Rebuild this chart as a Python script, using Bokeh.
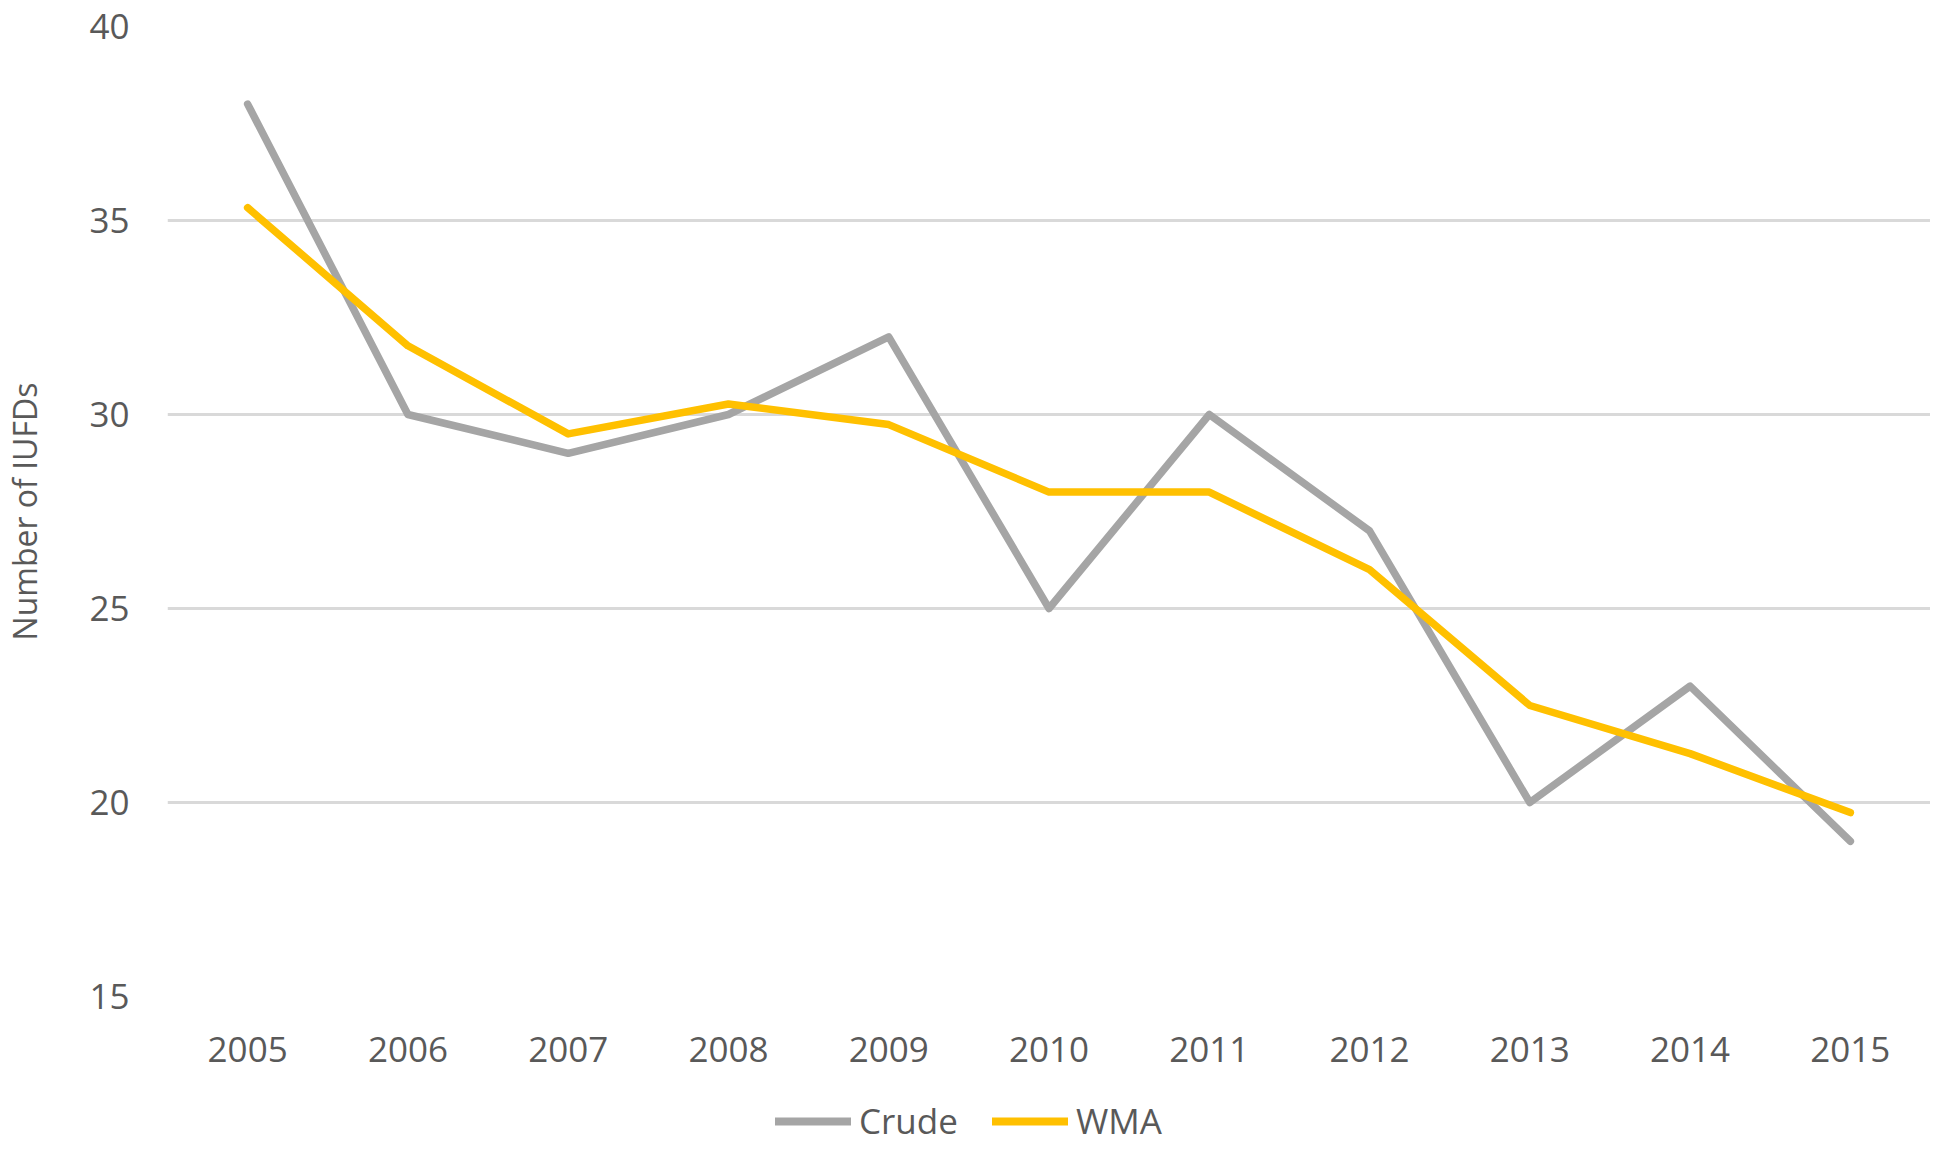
from bokeh.plotting import figure
from bokeh.layouts import column
from bokeh.models import FactorRange, Range1d, FixedTicker, Legend, LegendItem, ColumnDataSource
from bokeh.embed import file_html
from bokeh.resources import INLINE

years = ["2005", "2006", "2007", "2008", "2009", "2010", "2011", "2012", "2013", "2014", "2015"]
crude = [38, 30, 29, 30, 32, 25, 30, 27, 20, 23, 19]
wma = [35.33, 31.77, 29.5, 30.27, 29.74, 28.0, 28.0, 26.0, 22.5, 21.26, 19.74]
y_ticks = [15, 20, 25, 30, 35, 40]
series_names = ["Crude", "WMA"]
series_cols = ["crude", "wma"]
series_colors = ["#A5A5A5", "#FFC000"]

FONT = "Open Sans"
TEXT = "#595959"

src = ColumnDataSource(dict(year=years, crude=crude, wma=wma))

p = figure(width=1930, height=1084, output_backend="svg", toolbar_location=None,
           x_range=FactorRange(*years, range_padding=0),
           y_range=Range1d(15, 40),
           min_border_left=163, min_border_top=26, min_border_right=0, min_border_bottom=88)
p.outline_line_color = None
p.background_fill_color = "white"
p.border_fill_color = "white"

for col, color in zip(series_cols, series_colors):
    p.line("year", col, source=src, line_color=color, line_width=7.5,
           line_cap="round", line_join="round")

p.xgrid.grid_line_color = None
p.ygrid.grid_line_color = "#D9D9D9"
p.ygrid.grid_line_width = 3

p.yaxis.ticker = FixedTicker(ticks=y_ticks)
for ax in (p.xaxis[0], p.yaxis[0]):
    ax.axis_line_color = None
    ax.major_tick_line_color = None
    ax.minor_tick_line_color = None
    ax.major_tick_out = 0
    ax.major_tick_in = 0
    ax.major_label_text_font = FONT
    ax.major_label_text_font_size = "35px"
    ax.major_label_text_color = TEXT

p.yaxis.major_label_standoff = 38
p.xaxis.major_label_standoff = 40
p.yaxis.axis_label = "Number of IUFDs"
p.yaxis.axis_label_text_font = FONT
p.yaxis.axis_label_text_font_size = "32px"
p.yaxis.axis_label_text_font_style = "normal"
p.yaxis.axis_label_text_color = TEXT
p.yaxis.axis_label_standoff = 40

# legend strip below the chart (series drawn out of view, only the legend shows)
lg = figure(width=1930, height=62, output_backend="svg", toolbar_location=None,
            x_axis_type=None, y_axis_type=None, min_border=0,
            x_range=FactorRange(*years, range_padding=0), y_range=Range1d(100, 101))
lg.outline_line_color = None
lg.xgrid.visible = False
lg.ygrid.visible = False
items = []
for name, col, color in zip(series_names, series_cols, series_colors):
    rr = lg.line("year", col, source=src, line_color=color, line_width=8, line_cap="round")
    items.append(LegendItem(label=name, renderers=[rr]))
legend = Legend(items=items, orientation="horizontal", location=(608, 2),
                glyph_width=76, glyph_height=20, label_standoff=8, spacing=34,
                label_text_font=FONT, label_text_font_size="35px", label_text_color=TEXT,
                border_line_color=None, background_fill_alpha=0, padding=0, margin=0)
lg.add_layout(legend)

layout = column(p, lg, spacing=0)
open("out.html", "w").write(file_html(layout, INLINE))
